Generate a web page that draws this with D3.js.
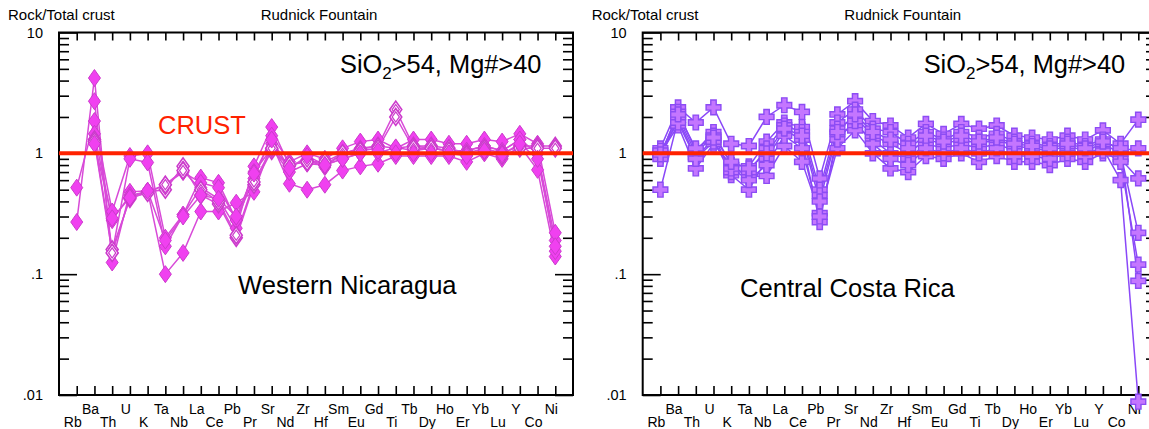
<!DOCTYPE html>
<html>
<head>
<meta charset="utf-8">
<script src="https://cdn.jsdelivr.net/npm/d3@7"></script>
<style>
  body { margin: 0; background: #fff; }
  svg { display: block; }
  text { font-family: "Liberation Sans", Arial, sans-serif; fill: #000; }
</style>
</head>
<body>
<svg id="chart" width="1149" height="429"></svg>
<script>
// Trace elements, in spider-diagram order
const elements = ["Rb","Ba","Th","U","K","Ta","Nb","La","Ce","Pb","Pr","Sr","Nd","Zr",
                  "Hf","Sm","Eu","Gd","Ti","Tb","Dy","Ho","Er","Yb","Lu","Y","Co","Ni"];

// Log axis ticks
const yMajorTicks = [0.01, 0.1, 1, 10];
const yMajorLabels = [".01", ".1", "1", "10"];

// Normaliser level (total crust = 1)
const crustLevel = 1;

// Western Nicaragua samples (rock / total crust)
const nic1 = [0.52,1.85,0.33,0.95,1.00,0.20,0.31,0.52,0.42,0.24,0.78,1.65,0.79,0.88,0.77,1.00,1.10,1.15,1.10,1.15,1.10,1.05,1.05,1.15,1.05,1.30,1.00,0.19];
const nic2 = [0.27,4.20,0.125,0.48,0.49,0.10,0.15,0.33,0.33,0.39,0.48,1.20,0.56,0.50,0.55,0.72,0.78,0.82,0.95,0.95,0.95,0.95,0.85,1.00,0.90,1.15,0.73,0.14];
const nic3 = [null,2.70,0.15,0.90,0.84,0.17,0.31,0.63,0.57,0.28,0.62,1.40,0.85,1.00,0.90,1.10,1.25,1.30,1.10,1.30,1.30,1.20,1.20,1.30,1.25,1.45,1.20,0.22];
const nic4 = [null,1.45,0.28,0.45,0.48,0.55,0.70,0.57,0.52,0.28,0.70,1.10,0.70,0.82,0.80,0.90,1.00,1.00,1.12,1.05,1.10,1.05,1.05,1.15,1.05,1.30,1.00,0.155];
const nic5 = [null,1.30,0.16,0.42,0.48,0.50,0.78,0.45,0.38,0.20,0.55,1.05,0.79,0.88,0.80,1.00,1.08,1.15,2.30,1.15,1.15,1.10,1.00,1.10,1.00,1.15,1.15,1.15];
const nic6 = [null,1.25,0.15,0.43,0.47,0.55,0.72,0.50,0.40,0.21,0.58,1.10,0.80,0.85,0.85,1.00,1.05,1.10,2.00,1.10,1.10,1.05,0.98,1.05,0.95,1.10,1.10,1.10];
const nic7 = [null,1.20,0.29,0.43,0.49,0.19,0.30,0.45,0.42,0.30,0.68,1.30,0.75,0.95,0.80,0.90,1.00,1.05,1.00,1.00,1.00,1.00,0.95,1.05,0.98,1.20,0.90,0.17];
const nicOpen = [false, false, false, false, true, true, false];

// Central Costa Rica samples (rock / total crust)
const cr1 = [1.10,2.40,1.80,2.40,1.20,1.15,2.00,2.50,2.20,0.62,2.10,2.70,1.85,1.70,1.35,1.75,1.45,1.75,1.60,1.70,1.40,1.35,1.30,1.40,1.30,1.55,1.20,1.90];
const cr2 = [0.95,2.20,1.05,1.50,0.80,0.78,1.25,1.80,1.65,0.50,1.80,2.30,1.60,1.50,1.20,1.50,1.30,1.50,1.35,1.45,1.25,1.20,1.15,1.25,1.15,1.30,1.05,1.10];
const cr3 = [0.50,1.90,0.93,1.30,0.66,0.50,0.90,1.55,1.30,0.27,1.45,1.70,1.30,1.00,0.90,1.20,1.10,1.20,1.10,1.20,1.05,1.00,0.95,1.05,1.00,1.10,0.60,0.0088];
const cr4 = [1.00,1.70,0.75,1.20,0.80,0.64,0.65,1.15,0.85,0.32,1.10,1.55,1.00,0.75,0.70,0.95,0.90,1.00,0.85,0.95,0.85,0.85,0.80,0.90,0.85,1.00,0.90,0.62];
const cr5 = [0.90,2.00,1.00,1.40,0.70,0.70,1.10,1.70,1.50,0.45,1.60,2.00,1.40,1.20,1.00,1.30,1.20,1.30,1.20,1.30,1.15,1.10,1.05,1.15,1.05,1.20,1.00,0.22];
const cr6 = [1.05,1.80,0.90,1.25,0.75,0.60,0.80,1.40,1.10,0.30,1.30,1.85,1.20,0.90,0.80,1.10,1.00,1.10,1.00,1.10,0.95,0.95,0.90,1.00,0.95,1.05,0.85,0.12];
const cr7 = [0.98,2.10,1.10,1.35,0.85,0.75,1.00,1.60,1.40,0.40,1.50,2.10,1.50,1.30,1.10,1.40,1.25,1.40,1.25,1.35,1.20,1.15,1.10,1.20,1.10,1.25,1.10,0.088];

const nicSeries = [nic1, nic2, nic3, nic4, nic5, nic6, nic7];
const crSeries = [cr1, cr2, cr3, cr4, cr5, cr6, cr7];

const svg = d3.select("#chart");

const plotTop = 32.5, plotBottom = 395;

// Marker outlines
const diamond = (s) => `M0,${-8.5*s}L${6*s},0L0,${8.5*s}L${-6*s},0Z`;
const cross = "M-2.7,-7.4h5.4v4.7h4.7v5.4h-4.7v4.7h-5.4v-4.7h-4.7v-5.4h4.7Z";

function drawPanel(cfg) {
  const g = svg.append("g");
  const x = d3.scaleLinear().domain([-1, elements.length]).range([cfg.left, cfg.right]);
  const y = d3.scaleLog().domain([0.01, 10]).range([plotBottom, plotTop]);

  const minorTicks = [];
  [0.01, 0.1, 1].forEach(d => { for (let k = 2; k <= 9; k++) minorTicks.push(d * k); });

  // Left axis: long major ticks, short minor ticks, both pointing inward
  const axL = g.append("g").attr("transform", `translate(${cfg.left},0)`);
  axL.call(d3.axisRight(y).tickValues(yMajorTicks).tickSize(18).tickFormat(""));
  axL.append("g").call(d3.axisRight(y).tickValues(minorTicks).tickSize(10).tickFormat(""));
  // Right axis
  const axR = g.append("g").attr("transform", `translate(${cfg.right},0)`);
  axR.call(d3.axisLeft(y).tickValues(yMajorTicks).tickSize(18).tickFormat(""));
  axR.append("g").call(d3.axisLeft(y).tickValues(minorTicks).tickSize(10).tickFormat(""));
  // Category ticks along top and bottom
  const idx = d3.range(elements.length);
  g.append("g").attr("transform", `translate(0,${plotBottom})`)
    .call(d3.axisTop(x).tickValues(idx).tickSize(9).tickFormat(""));
  g.append("g").attr("transform", `translate(0,${plotTop})`)
    .call(d3.axisBottom(x).tickValues(idx).tickSize(8).tickFormat(""));
  g.selectAll(".domain").remove();
  g.selectAll(".tick line").attr("stroke", "#000").attr("stroke-width", 1.6);

  // Frame
  g.append("path")
    .attr("d", `M${cfg.left},${plotTop}H${cfg.right}V${plotBottom}H${cfg.left}Z`)
    .attr("fill", "none").attr("stroke", "#000").attr("stroke-width", 2);

  // Y tick labels
  g.selectAll(".ylab").data(yMajorTicks).join("text")
    .attr("x", cfg.left - 16).attr("y", d => y(d) + 5)
    .attr("text-anchor", "end").attr("font-size", 14.5)
    .text((d, i) => yMajorLabels[i]);

  // Element labels, alternating between two rows
  g.selectAll(".xlab").data(elements).join("text")
    .attr("x", (d, i) => x(i) - 4)
    .attr("y", (d, i) => i % 2 ? 413.5 : 427)
    .attr("text-anchor", "middle").attr("font-size", 14)
    .text(d => d);

  // Titles
  g.append("text").attr("x", cfg.left - 51).attr("y", 20).attr("font-size", 15).text("Rock/Total crust");
  g.append("text").attr("x", cfg.left + 260).attr("y", 20).attr("font-size", 15)
    .attr("text-anchor", "middle").text("Rudnick Fountain");
  const sel = g.append("text").attr("x", cfg.left + 281).attr("y", 73).attr("font-size", 25.4);
  sel.append("tspan").text("SiO");
  sel.append("tspan").attr("font-size", 17).attr("dy", 6).text("2");
  sel.append("tspan").attr("dy", -6).text(">54, Mg#>40");
  g.append("text").attr("x", cfg.regionX).attr("y", cfg.regionY).attr("font-size", 25.6).text(cfg.region);

  // Sample patterns
  const line = d3.line().defined(d => d != null).x((d, i) => x(i)).y(d => y(d));
  g.append("g").selectAll("path").data(cfg.series).join("path")
    .attr("d", line).attr("fill", "none")
    .attr("stroke", cfg.lineColor).attr("stroke-width", 1.5);

  cfg.series.forEach((s, si) => {
    const pts = s.map((v, i) => ({ v, i })).filter(p => p.v != null);
    const mg = g.append("g");
    if (cfg.marker === "diamond") {
      const open = cfg.open[si];
      mg.selectAll("path.m").data(pts).join("path").attr("class", "m")
        .attr("transform", p => `translate(${x(p.i)},${y(p.v)})`)
        .attr("d", diamond(1))
        .attr("fill", open ? "#fff" : cfg.fill)
        .attr("stroke", cfg.stroke).attr("stroke-width", open ? 1.6 : 1);
      if (open) {
        mg.selectAll("path.in").data(pts).join("path").attr("class", "in")
          .attr("transform", p => `translate(${x(p.i)},${y(p.v)})`)
          .attr("d", diamond(0.6))
          .attr("fill", "none").attr("stroke", cfg.stroke).attr("stroke-width", 1.2);
      }
    } else {
      mg.selectAll("path").data(pts).join("path")
        .attr("transform", p => `translate(${x(p.i)},${y(p.v)})`)
        .attr("d", cross)
        .attr("fill", cfg.fill).attr("stroke", cfg.stroke).attr("stroke-width", 1.4);
    }
  });

  // Crust reference level
  g.append("line")
    .attr("x1", cfg.left).attr("x2", cfg.right)
    .attr("y1", y(crustLevel)).attr("y2", y(crustLevel))
    .attr("stroke", "#ff2200").attr("stroke-width", 4);

  if (cfg.crustLabel) {
    g.append("text").attr("x", cfg.left + 99).attr("y", 134).attr("font-size", 25.5)
      .style("fill", "#ff2200").text("CRUST");
  }
}

drawPanel({
  left: 59, right: 573,
  series: nicSeries, open: nicOpen, marker: "diamond",
  lineColor: "#d84ad8", fill: "#f040f0", stroke: "#cc3acc",
  region: "Western Nicaragua", regionX: 238, regionY: 294,
  crustLabel: true
});

drawPanel({
  left: 642.7, right: 1156,
  series: crSeries, marker: "cross",
  lineColor: "#8a48f8", fill: "#c476ff", stroke: "#8c4cf4",
  region: "Central Costa Rica", regionX: 740, regionY: 297,
  crustLabel: false
});
</script>
</body>
</html>
